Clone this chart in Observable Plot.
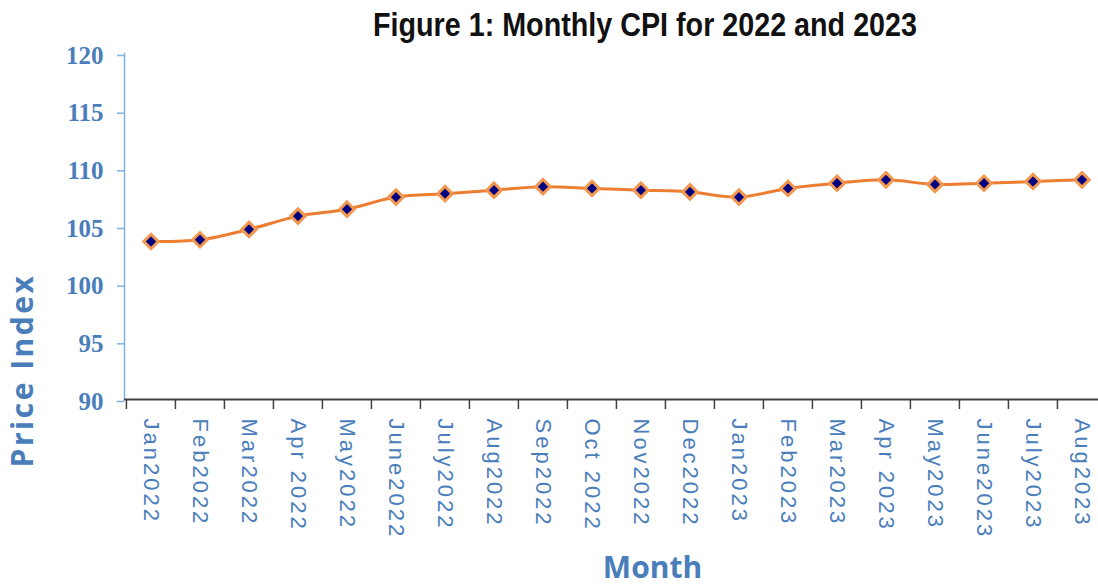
<!DOCTYPE html>
<html>
<head>
<meta charset="utf-8">
<script src="https://cdn.jsdelivr.net/npm/d3@7"></script>
<script src="https://cdn.jsdelivr.net/npm/@observablehq/plot@0.6"></script>
<style>
  html, body { margin: 0; padding: 0; background: #fff; overflow: hidden; }
  #title {
    height: 40px; box-sizing: border-box; padding-top: 10px;
    position: relative; white-space: nowrap; overflow: visible;
  }
  #title span {
    position: absolute; left: 373px; top: 8px; transform-origin: 0 0;
    font: bold 33px/1 "Liberation Sans", Arial, sans-serif; color: #111;
  }
  #chart svg { display: block; overflow: visible; max-width: none !important; }
</style>
</head>
<body>
<div id="title"><span>Figure 1: Monthly CPI for 2022 and 2023</span></div>
<div id="chart"></div>
<script>
const months = ["Jan2022","Feb2022","Mar2022","Apr 2022","May2022","June2022","July2022","Aug2022","Sep2022","Oct 2022","Nov2022","Dec2022","Jan2023","Feb2023","Mar2023","Apr 2023","May2023","June2023","July2023","Aug2023"];
const cpi = [103.7,103.85,104.75,105.9,106.5,107.55,107.85,108.15,108.45,108.3,108.15,108.0,107.55,108.3,108.75,109.05,108.65,108.75,108.9,109.05];
const yTicks = [90,95,100,105,110,115,120];
const yLabel = "Price Index";
const xLabel = "Month";

const data = months.map((m, i) => ({month: m, cpi: cpi[i]}));

const xRange = [124, 1107];
const bandHalf = (xRange[1] - xRange[0]) / months.length / 2;
const blue = "#4a7ebb";

const plot = Plot.plot({
  width: 1098,
  height: 548,
  marginTop: 13,
  marginBottom: 189,
  marginLeft: 124,
  marginRight: 0,
  x: {type: "band", domain: months, range: xRange, padding: 0},
  y: {domain: [90, 120]},
  marks: [
    Plot.frame({anchor: "left", stroke: "#7fb1e3", strokeWidth: 1.5}),
    Plot.axisY({ticks: yTicks, tickSize: 7, tickPadding: 14, stroke: "#7fb1e3", strokeWidth: 1.5,
      fill: blue, fontSize: 25, fontWeight: "bold", fontFamily: "Liberation Serif, Times New Roman, serif", dy: 2, label: null}),
    Plot.ruleY([90], {stroke: "#404040", strokeWidth: 2}),
    Plot.axisX({ticks: months, tickSize: 10, dx: -bandHalf, stroke: "#404040", strokeWidth: 1.5, fill: "none", label: null}),
    Plot.axisX({ticks: months, tickSize: 0, tickPadding: 19, tickRotate: 90, fill: blue, fontSize: 22,
      fontFamily: "Liberation Sans, Arial, sans-serif", label: null}),
    Plot.line(data, {x: "month", y: "cpi", stroke: "#ed7d31", strokeWidth: 3, curve: "catmull-rom"}),
    Plot.dot(data, {x: "month", y: "cpi", symbol: "diamond2", r: 6.5, fill: "#000080", stroke: "#f3974f", strokeWidth: 3}),
    Plot.text([xLabel], {frameAnchor: "bottom", text: d => d, textAnchor: "middle", lineAnchor: "middle", dx: 41, dy: 169, fontSize: 30, fontWeight: "bold",
      fontFamily: "Open Sans, Lato, sans-serif", fill: blue}),
    Plot.text([yLabel], {frameAnchor: "left", text: d => d, textAnchor: "middle", lineAnchor: "middle", dx: -101, dy: 144, rotate: -90, fontSize: 30, fontWeight: "bold",
      fontFamily: "Open Sans, Lato, sans-serif", fill: blue})
  ]
});

d3.select(plot).selectAll('g[aria-label="x-axis tick label"] text').attr("letter-spacing", "3px");
d3.select(plot).selectAll("text").filter(function() { return this.textContent === yLabel; }).attr("letter-spacing", "2.5px");
document.getElementById("chart").appendChild(plot);

const span = document.querySelector("#title span");
const w = span.getBoundingClientRect().width;
span.style.transform = `scaleX(${544 / w})`;
</script>
</body>
</html>
